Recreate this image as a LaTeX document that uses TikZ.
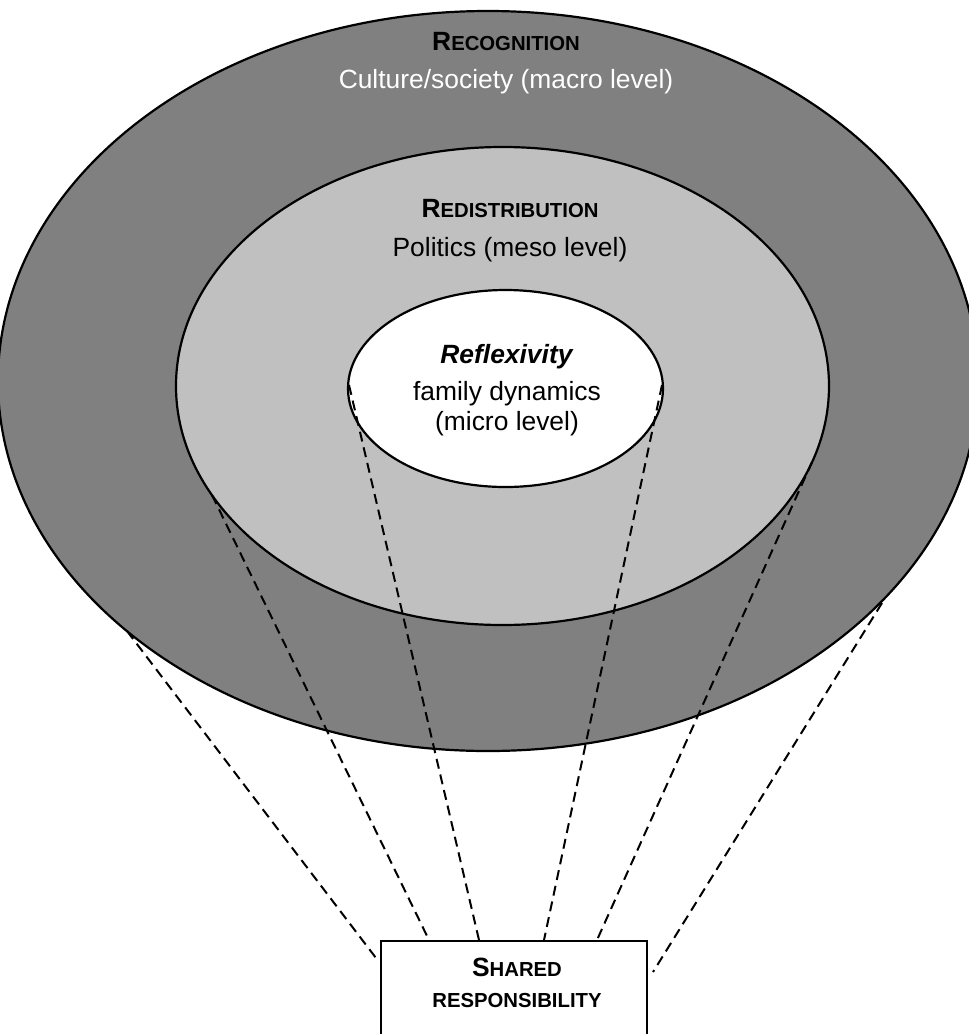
\documentclass[tikz,border=0pt]{standalone}
\usepackage{fontspec}
\setmainfont{Liberation Sans}
\usetikzlibrary{shapes.geometric}
\definecolor{darkring}{HTML}{808080}
\definecolor{lightring}{HTML}{C0C0C0}
\newcommand\bigsc[2]{{\fontsize{26.4}{38}\selectfont #1}{\fontsize{20.3}{38}\selectfont #2}}
\newcommand\allsc[1]{{\fontsize{20.3}{30}\selectfont #1}}
\begin{document}
\begin{tikzpicture}[x=1pt,y=-1pt,
  ring/.style={ellipse, draw=black, line width=2.2pt, inner sep=0pt},
  link/.style={draw=black, line width=2pt, dash pattern=on 10pt off 6pt},
  lbl/.style={align=center, inner sep=0pt},
  boxstyle/.style={draw=black, fill=white, line width=2.2pt, inner sep=0pt}
]
\useasboundingbox (0,0) rectangle (969,1034);
\clip (0,0) rectangle (969,1034);
% rings
\node[ring, fill=darkring, minimum width=980pt, minimum height=740pt] (outer) at (488,381) {};
\node[ring, fill=lightring, minimum width=653pt, minimum height=478pt] (middle) at (502.5,386) {};
\node[ring, fill=white, minimum width=315pt, minimum height=197pt] (inner) at (505.5,388.5) {};
% box
\node[boxstyle, minimum width=266pt, minimum height=120pt, anchor=north] (box) at (514,940) {};
% start points on the rings
\coordinate (s1) at (127,631);
\coordinate (s2) at (212,495);
\coordinate (s3) at (349,385);
\coordinate (s4) at (662,385);
\coordinate (s5) at (812,462);
\coordinate (s6) at (882,603);
% end points
\coordinate (e1) at (376,958);
\coordinate (e6) at (653,972);
\draw[link] (s1) -- (e1);
\draw[link] (s2) -- (box.north -| 429,0);
\draw[link] (s3) -- (box.north -| 479,0);
\draw[link] (s4) -- (box.north -| 544,0);
\draw[link] (s5) -- (box.north -| 597,0);
\draw[link] (s6) -- (e6);
% labels (base = baseline of last line)
\node[lbl, anchor=base, font=\fontsize{26.4}{38}\selectfont] (recog) at (506,88)
  {\textbf{\bigsc{R}{ECOGNITION}}\\ \textcolor{white}{Culture/society (macro level)}};
\node[lbl, anchor=base, font=\fontsize{26.4}{39}\selectfont] (redis) at (510,256)
  {\textbf{\bigsc{R}{EDISTRIBUTION}}\\ Politics (meso level)};
\node[lbl, anchor=base, font=\fontsize{26.4}{30}\selectfont] (reflex) at (507,430)
  {\textbf{\textit{Reflexivity}}\\[7pt] family dynamics\\ (micro level)};
\node[lbl, anchor=base, font=\fontsize{26.4}{31}\selectfont\bfseries] (shared) at (517,1007)
  {\bigsc{S}{HARED}\\ \allsc{RESPONSIBILITY}};
\end{tikzpicture}
\end{document}
